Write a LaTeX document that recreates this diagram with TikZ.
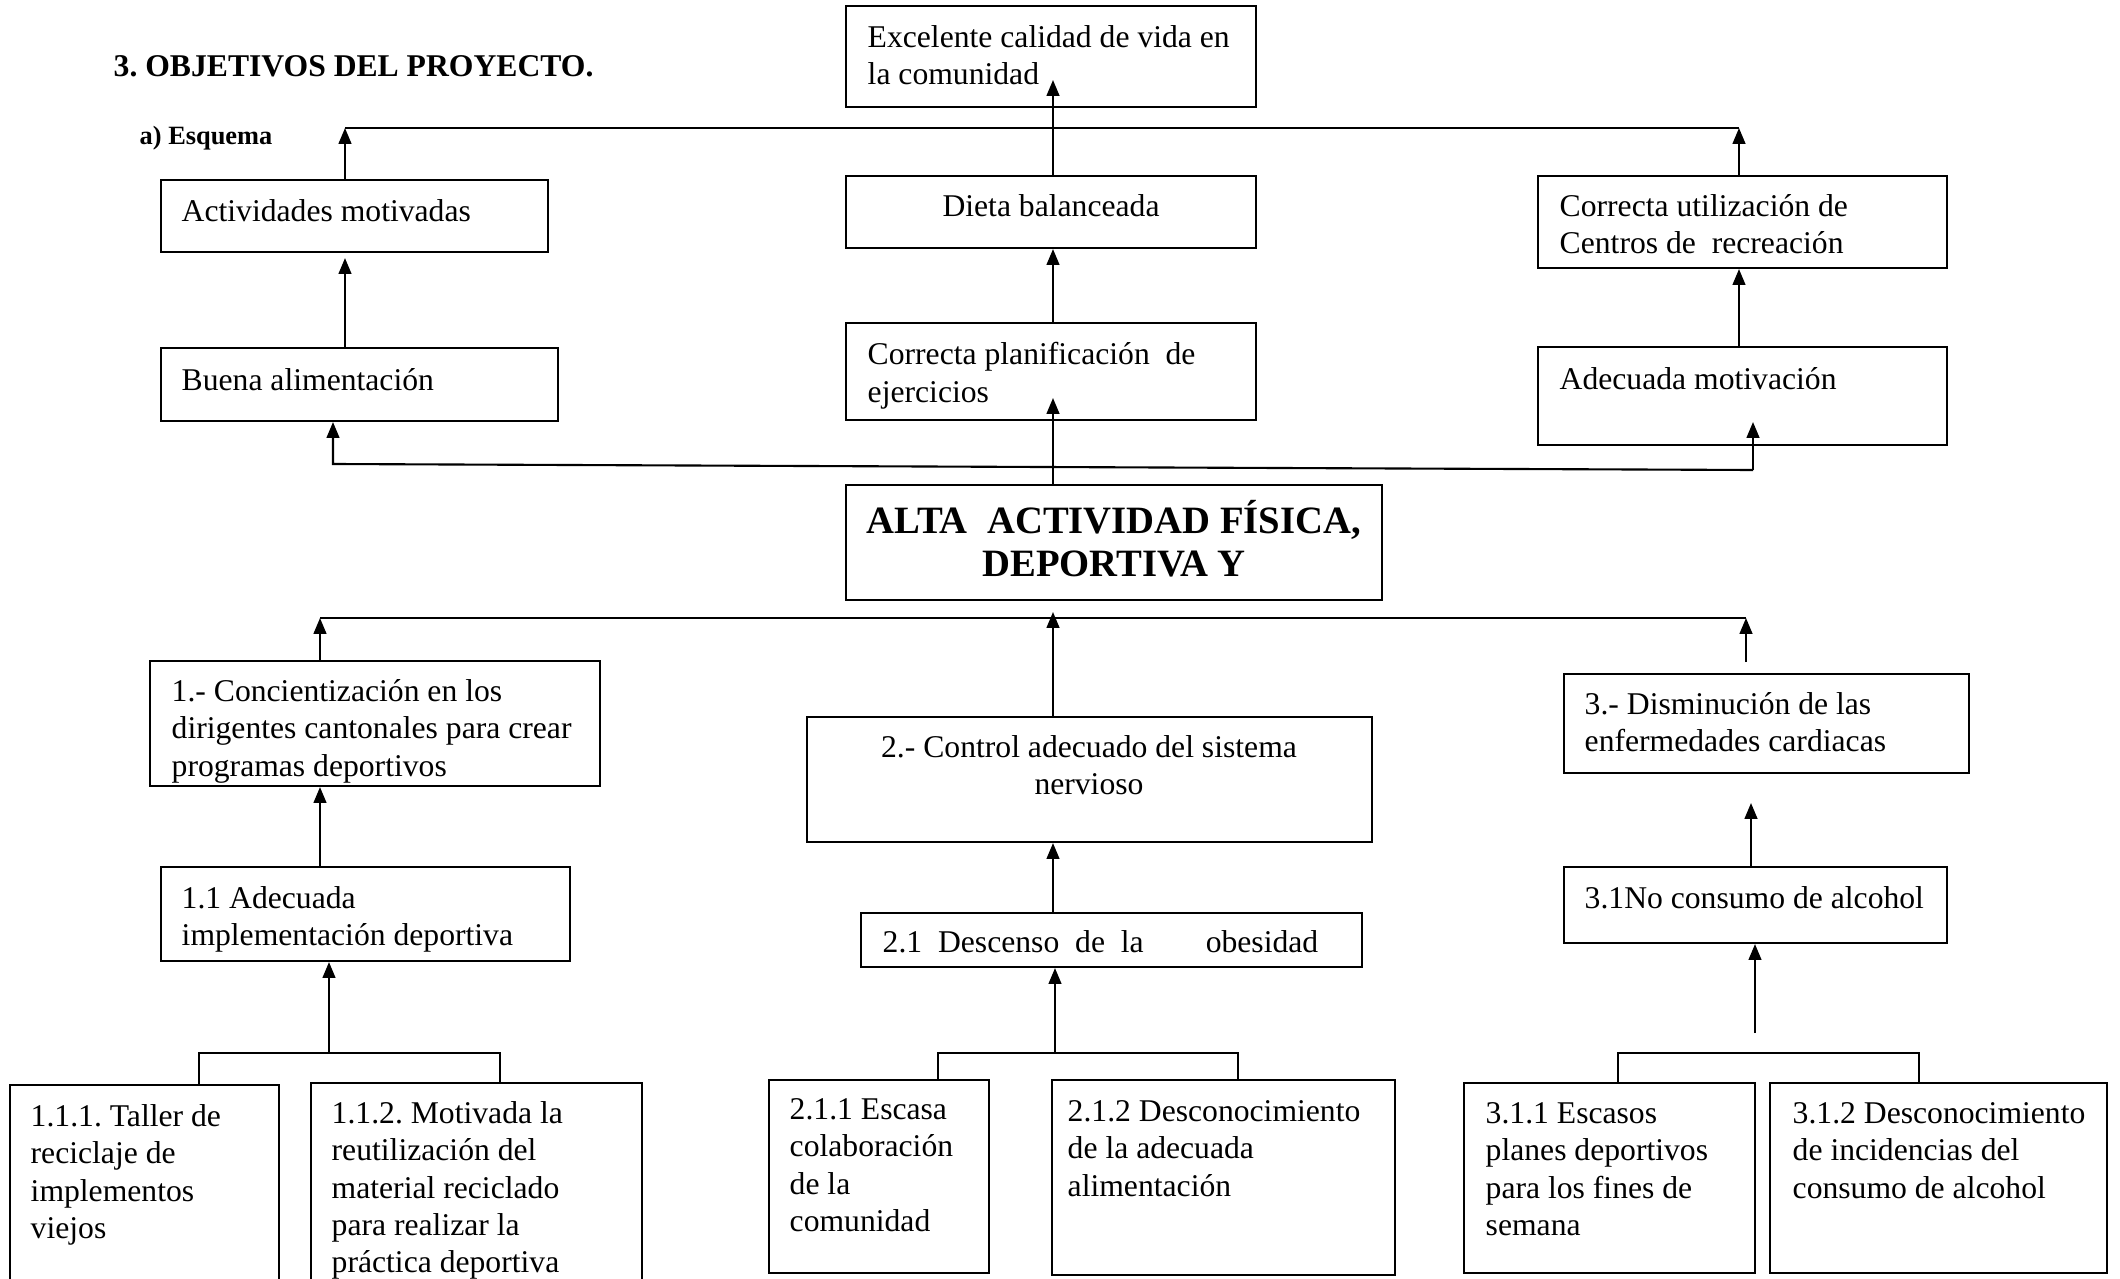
\documentclass[tikz,border=0pt]{standalone}
\usepackage{fontspec}
\setmainfont{Liberation Serif}
\frenchspacing
\usetikzlibrary{positioning, fit, arrows.meta}

\tikzset{
  caja/.style={draw, line width=0.6pt, inner sep=0pt},
  texto/.style={anchor=north west, inner sep=0pt, align=left, font=\fontsize{9}{10.6}\selectfont, execute at begin node=\strut},
  flecha/.style={line width=0.6pt, -{Triangle[length=4.5pt, width=3.6pt]}},
  linea/.style={line width=0.6pt}
}

\begin{document}
\begin{tikzpicture}[x=0.01cm, y=-0.01cm]
    \useasboundingbox (0,0) rectangle (2120,1279);
    \clip (0,0) rectangle (2120,1279);

    % Titles
    \node[texto, font=\bfseries\fontsize{9}{10.6}\selectfont] (titulo) at (113,50) {3. OBJETIVOS DEL PROYECTO.};
    \node[texto, font=\bfseries\fontsize{7.5}{9}\selectfont] (esquema) at (139,122) {a) Esquema};

    % Boxes
    \foreach \n/\xa/\ya/\xb/\yb in {exc/846/6/1256/107, act/161/180/548/252, dieta/846/176/1256/248,
      cu/1538/176/1947/268, buena/161/348/558/421, plan/846/323/1256/420, mot/1538/347/1947/445,
      alta/846/485/1382/600, con/150/661/600/786, ctrl/807/717/1372/842, dis/1564/674/1969/773,
      ade/161/867/570/961, des/861/913/1362/967, no/1564/867/1947/943,
      t111/10/1085/279/1300, t112/311/1083/642/1300, t211/769/1080/989/1273,
      t212/1052/1080/1395/1275, t311/1464/1083/1755/1273, t312/1770/1083/2107/1273} {
      \node[caja, fit={(\xa,\ya) (\xb,\yb)}] (\n) {};
    }

    % Texts in the boxes
    \foreach \n/\x/\y/\t in {
      exc/867/25/{Excelente calidad de vida en\\la comunidad},
      act/181/195/{Actividades motivadas},
      cu/1559/194/{Correcta utilización de\\Centros de~~recreación},
      buena/181/364/{Buena alimentación},
      plan/867/342/{Correcta planificación~~de\\ejercicios},
      mot/1559/363/{Adecuada motivación},
      con/171/679/{1.- Concientización en los\\dirigentes cantonales para crear\\programas deportivos},
      ade/181/886/{1.1 Adecuada\\implementación deportiva},
      des/882/926/{2.1~~Descenso~~de~~la\hspace{0.62cm}obesidad},
      dis/1584/692/{3.- Disminución de las\\enfermedades cardiacas},
      no/1584/882/{3.1No consumo de alcohol},
      t111/30/1104/{1.1.1. Taller de\\reciclaje de\\implementos\\viejos},
      t112/331/1101/{1.1.2. Motivada la\\reutilización del\\material reciclado\\para realizar la\\práctica deportiva},
      t211/789/1098/{2.1.1 Escasa\\colaboración\\de la\\comunidad},
      t212/1067/1100/{2.1.2 Desconocimiento\\de la adecuada\\alimentación},
      t311/1485/1102/{3.1.1 Escasos\\planes deportivos\\para los fines de\\semana},
      t312/1792/1102/{3.1.2 Desconocimiento\\de incidencias del\\consumo de alcohol}} {
      \node[texto] (\n-t) at (\x,\y) {\t};
    }
    \node[texto, anchor=north, align=center] (dieta-t) at (1051,190) {Dieta balanceada};
    \node[texto, anchor=north, align=center] (ctrl-t) at (1089,735) {2.- Control adecuado del sistema\\nervioso};
    \node[texto, anchor=north, align=center, font=\fontsize{11}{12.2}\selectfont\bfseries] (alta-t) at (1114,500) {ALTA~~ACTIVIDAD FÍSICA,\\DEPORTIVA Y};

    % Upper level
    \coordinate (barra1-i) at (345,128);
    \coordinate (barra1-d) at (1739,128);
    \coordinate (exc-in) at (1053,80);
    \coordinate (plan-in) at (1053,398);
    \draw[linea] (barra1-i) -- (barra1-d);
    \draw[flecha] (act.north -| barra1-i) -- (barra1-i);
    \draw[flecha] (cu.north -| barra1-d) -- (barra1-d);
    \draw[flecha] (dieta.north -| exc-in) -- (exc-in);
    \draw[flecha] (buena.north -| barra1-i) -- ([yshift=-0.05cm]act.south -| barra1-i);
    \draw[flecha] (plan.north -| exc-in) -- (dieta.south -| exc-in);
    \draw[flecha] (mot.north -| barra1-d) -- (cu.south -| barra1-d);
    \draw[flecha] (alta.north -| plan-in) -- (plan-in);

    % Route below
    \coordinate (ruta-i) at (333,464);
    \coordinate (ruta-d) at (1753,470);
    \coordinate (mot-in) at (1753,422);
    \draw[flecha] (ruta-d) -- (ruta-i) -- (buena.south -| ruta-i);
    \draw[flecha] (ruta-d) -- (mot-in);

    % Middle level
    \coordinate (barra2-i) at (320,618);
    \coordinate (barra2-d) at (1746,618);
    \coordinate (alta-in) at (1053,612);
    \coordinate (dis-out) at (1746,662);
    \coordinate (dis-in) at (1751,803);
    \draw[linea] (barra2-i) -- (barra2-d);
    \draw[flecha] (con.north -| barra2-i) -- (barra2-i);
    \draw[flecha] (ctrl.north -| alta-in) -- (alta-in);
    \draw[flecha] (dis-out) -- (barra2-d);
    \draw[flecha] (ade.north -| barra2-i) -- (con.south -| barra2-i);
    \draw[flecha] (des.north -| alta-in) -- (ctrl.south -| alta-in);
    \draw[flecha] (no.north -| dis-in) -- (dis-in);

    % Lower level
    \foreach \a/\b/\m/\p/\q/\s in {199/500/329/t111/t112/ade, 938/1238/1055/t211/t212/des} {
      \coordinate (izq) at (\a,1053);
      \coordinate (der) at (\b,1053);
      \coordinate (med) at (\m,1053);
      \draw[linea] (\p.north -| izq) -- (izq) -- (der) -- (\q.north -| der);
      \draw[flecha] (med) -- (\s.south -| med);
    }
    \coordinate (barra5-i) at (1618,1053);
    \coordinate (barra5-d) at (1919,1053);
    \coordinate (no-out) at (1755,1033);
    \draw[linea] (t311.north -| barra5-i) -- (barra5-i) -- (barra5-d) -- (t312.north -| barra5-d);
    \draw[flecha] (no-out) -- (no.south -| no-out);
  \end{tikzpicture}
\end{document}
